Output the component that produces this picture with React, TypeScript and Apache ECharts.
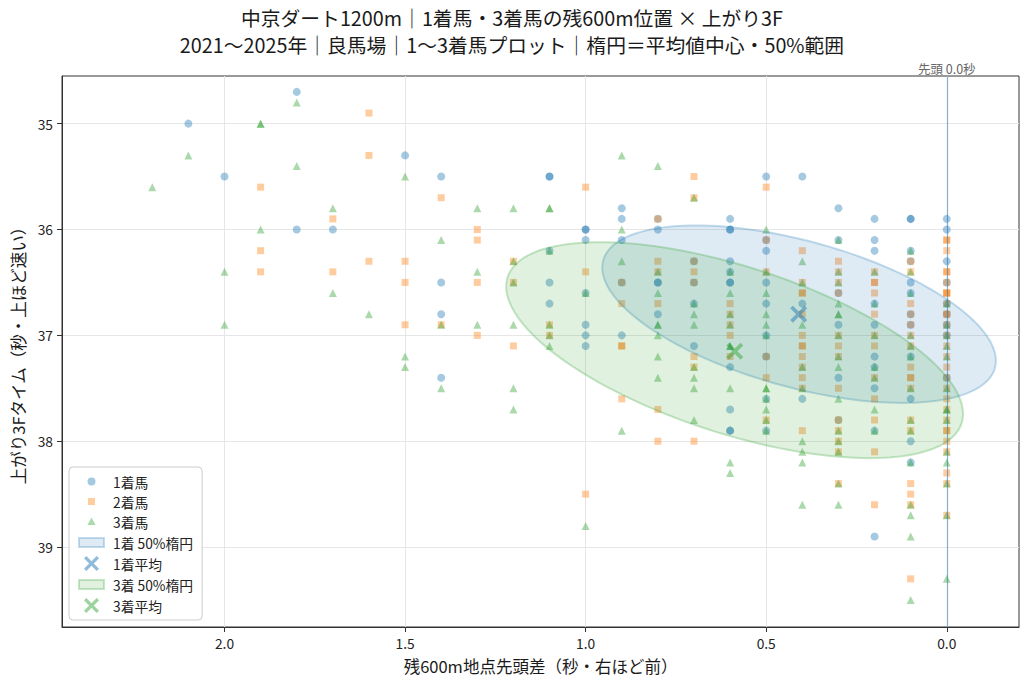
import React, { useEffect, useRef } from 'react';
import * as echarts from 'echarts';

const FONT = '"Noto Sans CJK JP", "Noto Sans", sans-serif';

const TITLE_LINES = [
  '中京ダート1200m｜1着馬・3着馬の残600m位置 × 上がり3F',
  '2021～2025年｜良馬場｜1～3着馬プロット｜楕円＝平均値中心・50%範囲',
];
const X_NAME = '残600m地点先頭差（秒・右ほど前）';
const Y_NAME = '上がり3Fタイム（秒・上ほど速い）';
const X_TICKS = [0, 0.5, 1.0, 1.5, 2.0];
const Y_TICKS = [35, 36, 37, 38, 39];
const X_RANGE = [-0.2, 2.45];
const Y_RANGE = [34.55, 39.755];
const LEADER_X = 0;
const LEADER_LABEL = '先頭 0.0秒';

const FIRST: number[][] = [
  [1.8, 34.7], [2.1, 35.0], [1.5, 35.3], [2.0, 35.5], [1.4, 35.5], [1.8, 36.0], [1.7, 36.0], [1.4, 36.5], [1.4, 36.8], [1.4, 37.4],
  [1.1, 35.5], [1.1, 35.5], [0.5, 35.5], [0.4, 35.5], [0.9, 35.8], [0.3, 35.8], [0.9, 35.9], [0.8, 35.9], [0.6, 35.9], [0.2, 35.9],
  [0.1, 35.9], [0.1, 35.9], [0.0, 35.9], [1.0, 36.0], [1.0, 36.0], [0.8, 36.0], [0.6, 36.0], [0.6, 36.0], [0.0, 36.0],
  [1.0, 36.1], [0.9, 36.1], [0.5, 36.1], [0.3, 36.1], [0.2, 36.1], [1.1, 36.2], [0.5, 36.2], [0.2, 36.2], [0.1, 36.2],
  [0.7, 36.3], [0.6, 36.3], [0.1, 36.3], [0.0, 36.3], [0.6, 36.4],
  [1.1, 36.5], [0.9, 36.5], [0.8, 36.5], [0.8, 36.5], [0.7, 36.5], [0.6, 36.5], [0.6, 36.5], [0.5, 36.5], [0.1, 36.5], [0.0, 36.5],
  [1.0, 36.6], [0.3, 36.6], [0.1, 36.6], [1.1, 36.7], [0.7, 36.7], [0.5, 36.7], [0.4, 36.7], [0.2, 36.7], [0.0, 36.7],
  [0.8, 36.8], [0.1, 36.8], [0.0, 36.8], [1.0, 36.9], [0.3, 36.9], [0.2, 36.9], [0.1, 36.9], [0.0, 36.9],
  [1.0, 37.0], [0.9, 37.0], [0.5, 37.0], [0.0, 37.0], [1.0, 37.1], [0.7, 37.1], [0.5, 37.2], [0.2, 37.2], [0.1, 37.2],
  [0.6, 37.3], [0.2, 37.3], [0.3, 37.4], [0.0, 37.4], [0.2, 37.5], [0.5, 37.6], [0.4, 37.6], [0.1, 37.6], [0.6, 37.7],
  [0.3, 37.8], [0.6, 37.9], [0.6, 37.9], [0.5, 37.9], [0.2, 37.9], [0.1, 38.0], [0.1, 38.2], [0.2, 38.9],
];

const SECOND: number[][] = [
  [1.6, 34.9], [1.6, 35.3], [1.9, 35.6], [1.4, 35.7], [1.7, 35.9], [1.3, 36.0], [1.3, 36.1], [1.9, 36.2], [1.6, 36.3], [1.5, 36.3],
  [1.9, 36.4], [1.7, 36.4], [1.5, 36.5], [1.3, 36.5], [1.5, 36.9], [1.4, 36.9], [1.3, 37.0],
  [1.0, 35.6], [0.7, 35.5], [0.7, 35.7], [0.5, 35.6], [0.8, 35.9], [0.5, 36.1], [0.0, 36.1], [0.0, 36.1], [0.4, 36.2], [0.0, 36.2],
  [1.2, 36.3], [0.8, 36.3], [0.7, 36.3], [0.3, 36.3], [0.1, 36.3],
  [1.0, 36.4], [0.8, 36.4], [0.7, 36.4], [0.5, 36.4], [0.3, 36.4], [0.2, 36.4], [0.1, 36.4], [0.0, 36.4], [0.0, 36.4],
  [1.2, 36.5], [0.9, 36.5], [0.7, 36.5], [0.4, 36.5], [0.3, 36.5], [0.2, 36.5], [0.2, 36.5], [0.0, 36.5],
  [0.4, 36.6], [0.4, 36.6], [0.3, 36.6], [0.2, 36.6], [0.0, 36.6], [0.0, 36.6], [0.0, 36.6],
  [0.9, 36.7], [0.8, 36.7], [0.6, 36.7], [0.1, 36.7], [0.0, 36.7],
  [0.6, 36.8], [0.4, 36.8], [0.2, 36.8], [0.1, 36.8], [0.0, 36.8], [0.0, 36.8],
  [1.1, 36.9], [0.6, 36.9], [0.1, 36.9], [0.0, 36.9],
  [1.1, 37.0], [0.6, 37.0], [0.4, 37.0], [0.3, 37.0], [0.2, 37.0], [0.1, 37.0], [0.0, 37.0],
  [1.2, 37.1], [0.9, 37.1], [0.9, 37.1], [0.4, 37.1], [0.4, 37.1], [0.3, 37.1], [0.2, 37.1], [0.1, 37.1], [0.0, 37.1],
  [0.7, 37.2], [0.6, 37.2], [0.5, 37.2], [0.4, 37.2], [0.3, 37.2], [0.0, 37.2],
  [0.7, 37.3], [0.4, 37.3], [0.1, 37.3], [0.0, 37.3],
  [0.5, 37.4], [0.4, 37.4], [0.2, 37.4], [0.1, 37.4], [0.1, 37.4], [0.0, 37.4],
  [0.4, 37.5], [0.3, 37.5], [0.1, 37.5], [0.0, 37.5], [0.9, 37.6], [0.2, 37.6], [0.0, 37.6], [0.8, 37.7], [0.0, 37.7],
  [0.5, 37.8], [0.3, 37.8], [0.2, 37.8], [0.1, 37.8], [0.0, 37.8],
  [0.4, 37.9], [0.3, 37.9], [0.1, 37.9], [0.0, 37.9], [0.0, 37.9],
  [0.8, 38.0], [0.7, 38.0], [0.3, 38.0], [0.0, 38.0], [0.3, 38.1], [0.2, 38.1], [0.0, 38.1], [0.0, 38.3],
  [0.3, 38.4], [0.1, 38.4], [0.0, 38.4], [1.0, 38.5], [0.1, 38.5], [0.2, 38.6], [0.1, 38.6], [0.0, 38.7], [0.1, 39.3],
];

const THIRD: number[][] = [
  [1.8, 34.8], [1.9, 35.0], [1.9, 35.0], [2.1, 35.3], [1.8, 35.4], [1.5, 35.5], [2.2, 35.6], [1.7, 35.8], [1.3, 35.8], [1.9, 36.0],
  [1.4, 36.1], [2.0, 36.4], [1.3, 36.4], [1.7, 36.6], [1.6, 36.8], [2.0, 36.9], [1.4, 36.9], [1.3, 36.9], [1.5, 37.2], [1.5, 37.3], [1.4, 37.5],
  [0.9, 35.3], [0.8, 35.4], [0.7, 35.7], [1.2, 35.8], [1.1, 35.8], [1.1, 35.8], [0.9, 36.0], [0.5, 36.0], [0.3, 36.1],
  [1.1, 36.2], [0.1, 36.2], [1.2, 36.3], [0.9, 36.3], [0.4, 36.3],
  [0.8, 36.4], [0.6, 36.4], [0.5, 36.4], [0.3, 36.4], [0.2, 36.4], [0.1, 36.4], [1.2, 36.5], [0.4, 36.5], [0.3, 36.5],
  [1.0, 36.6], [0.8, 36.6], [0.6, 36.6], [0.5, 36.6], [0.1, 36.6], [0.7, 36.7], [0.3, 36.7], [0.2, 36.7], [0.0, 36.7],
  [0.7, 36.8], [0.6, 36.8], [0.5, 36.8], [0.3, 36.8], [0.3, 36.8],
  [1.2, 36.9], [1.1, 36.9], [0.8, 36.9], [0.8, 36.9], [0.7, 36.9], [0.6, 36.9], [0.5, 36.9], [0.4, 36.9], [0.0, 36.9],
  [1.1, 37.0], [0.8, 37.0], [0.5, 37.0], [0.3, 37.0], [0.2, 37.0], [0.1, 37.0], [0.0, 37.0],
  [1.1, 37.1], [0.6, 37.1], [0.6, 37.1], [0.1, 37.1], [0.0, 37.1], [0.8, 37.2], [0.3, 37.2], [0.1, 37.2], [0.0, 37.2],
  [0.7, 37.3], [0.4, 37.3], [0.3, 37.3], [0.2, 37.3],
  [1.2, 37.5], [0.8, 37.4], [0.7, 37.4], [0.2, 37.4], [0.7, 37.5], [0.6, 37.5], [0.5, 37.5], [0.5, 37.5], [0.4, 37.5], [0.1, 37.5], [0.0, 37.5],
  [0.5, 37.6], [0.3, 37.6], [1.2, 37.7], [0.5, 37.7], [0.2, 37.7], [0.0, 37.7], [0.0, 37.7],
  [0.7, 37.8], [0.5, 37.8], [0.1, 37.8], [0.0, 37.8], [0.9, 37.9], [0.5, 37.9], [0.3, 37.9], [0.2, 37.9], [0.1, 37.9],
  [0.4, 38.0], [0.3, 38.0], [0.4, 38.1], [0.3, 38.1], [0.0, 38.1], [0.6, 38.2], [0.4, 38.2], [0.1, 38.2], [0.0, 38.2], [0.6, 38.3],
  [0.3, 38.4], [0.0, 38.4], [0.4, 38.6], [0.3, 38.6], [0.1, 38.6], [0.1, 38.7], [0.0, 38.7], [1.0, 38.8], [0.1, 38.9],
  [0.0, 39.3], [0.1, 39.5],
];

const MEAN_1 = [0.41, 36.8];
const MEAN_3 = [0.587, 37.15];
// centre x, centre y, half extent x, half extent y, correlation
const ELLIPSE_1 = [0.409, 36.8, 0.545, 0.838, -0.525];
const ELLIPSE_3 = [0.5875, 37.14, 0.6325, 1.02, -0.59];

const C1 = 'rgba(31,119,180,0.5)';
const C2 = 'rgba(255,127,14,0.5)';
const C3 = 'rgba(44,160,44,0.5)';
const E1_FILL = 'rgba(31,119,180,0.15)';
const E1_EDGE = 'rgba(31,119,180,0.26)';
const E3_FILL = 'rgba(44,160,44,0.15)';
const E3_EDGE = 'rgba(44,160,44,0.26)';
const M1_COLOR = 'rgba(31,119,180,0.62)';
const M3_COLOR = 'rgba(44,160,44,0.58)';
const X_SYMBOL = 'path://M0,2.5L2.5,0L8,5.5L13.5,0L16,2.5L10.5,8L16,13.5L13.5,16L8,10.5L2.5,16L0,13.5L5.5,8Z';

// legend icons, padded to the 27x15 legend item box so they keep their own size
const BOX = 'M0,0M27,15';
const ICON_CIRCLE = `path://${BOX}M9.5,7.5A4,4 0 1,1 17.5,7.5A4,4 0 1,1 9.5,7.5Z`;
const ICON_SQUARE = `path://${BOX}M10,4L17,4L17,11L10,11Z`;
const ICON_TRIANGLE = `path://${BOX}M13.5,3.5L17.5,11L9.5,11Z`;
const ICON_PATCH = `path://${BOX}M1,3L26,3L26,12L1,12Z`;
const ICON_X = `path://${BOX}M5.5,2.5L8,0L13.5,5.5L19,0L21.5,2.5L16,8L21.5,13.5L19,16L13.5,10.5L8,16L5.5,13.5L11,8Z`;

function ellipseSeries(name: string, params: number[], fill: string, edge: string) {
  return {
    type: 'custom',
    name,
    z: 3,
    clip: true,
    silent: true,
    dimensions: ['cx', 'cy', 'hx', 'hy', 'rho'],
    encode: { x: 'cx', y: 'cy' },
    data: [params],
    itemStyle: { color: fill, borderColor: edge, borderWidth: 2 },
    renderItem: (_p: any, api: any) => {
      const cx = api.value(0);
      const cy = api.value(1);
      const hx = api.value(2);
      const hy = api.value(3);
      const r = api.value(4);
      const s = Math.sqrt(1 - r * r);
      const pts: number[][] = [];
      const n = 160;
      for (let i = 0; i < n; i++) {
        const t = (i / n) * Math.PI * 2;
        const x = cx + hx * Math.cos(t);
        const y = cy + hy * (r * Math.cos(t) + s * Math.sin(t));
        pts.push(api.coord([x, y]));
      }
      return {
        type: 'polygon',
        shape: { points: pts },
        style: { fill, stroke: edge, lineWidth: 2 },
      };
    },
  };
}

export default function App() {
  const ref = useRef<HTMLDivElement>(null);
  useEffect(() => {
    if (!ref.current) return;
    const chart = echarts.init(ref.current, undefined, { renderer: 'svg' });
    const option: any = {
      animation: false,
      backgroundColor: '#ffffff',
      textStyle: { fontFamily: FONT },
      title: {
        text: TITLE_LINES.join('\n'),
        left: 'center',
        top: 4,
        padding: [0, 0, 0, 56],
        textStyle: { fontSize: 19.8, fontWeight: 'normal', color: '#1a1a1a', lineHeight: 27, fontFamily: FONT },
      },
      grid: { left: 62, right: 5, top: 76, bottom: 55, show: true, borderColor: '#333', borderWidth: 1, backgroundColor: 'transparent' },
      xAxis: {
        type: 'value',
        min: X_RANGE[0],
        max: X_RANGE[1],
        inverse: true,
        name: X_NAME,
        nameLocation: 'middle',
        nameGap: 31,
        nameTextStyle: { fontSize: 16.5, color: '#1a1a1a', fontFamily: FONT },
        axisLine: { show: true, onZero: false, lineStyle: { color: '#333', width: 1 } },
        axisTick: { show: true, length: 5, customValues: X_TICKS, lineStyle: { color: '#333' } },
        axisLabel: {
          customValues: X_TICKS,
          formatter: (v: number) => v.toFixed(1),
          fontSize: 13.8,
          color: '#222',
          margin: 9,
          fontFamily: FONT,
        },
        splitLine: { show: true, lineStyle: { color: '#e6e6e6', width: 1 } },
      },
      yAxis: {
        type: 'value',
        min: Y_RANGE[0],
        max: Y_RANGE[1],
        inverse: true,
        name: Y_NAME,
        nameLocation: 'middle',
        nameGap: 36,
        nameTextStyle: { fontSize: 16.5, color: '#1a1a1a', fontFamily: FONT },
        axisLine: { show: true, onZero: false, lineStyle: { color: '#333', width: 1 } },
        axisTick: { show: true, length: 5, customValues: Y_TICKS, lineStyle: { color: '#333' } },
        axisLabel: {
          customValues: Y_TICKS,
          formatter: (v: number) => String(Math.round(v)),
          fontSize: 13.8,
          color: '#222',
          margin: 9,
          fontFamily: FONT,
        },
        splitLine: { show: true, lineStyle: { color: '#e6e6e6', width: 1 } },
      },
      legend: {
        orient: 'vertical',
        left: 69,
        top: 467,
        padding: [7, 9, 7, 8],
        itemGap: 5,
        itemWidth: 27,
        itemHeight: 15,
        backgroundColor: 'rgba(255,255,255,0.85)',
        borderColor: '#cccccc',
        borderWidth: 1,
        borderRadius: 4,
        selectedMode: false,
        textStyle: { fontSize: 13.8, color: '#222', fontFamily: FONT, padding: [0, 0, 0, 3] },
        data: [
          { name: '1着馬', icon: ICON_CIRCLE },
          { name: '2着馬', icon: ICON_SQUARE },
          { name: '3着馬', icon: ICON_TRIANGLE },
          { name: '1着 50%楕円', icon: ICON_PATCH, itemStyle: { color: E1_FILL, borderColor: E1_EDGE, borderWidth: 2 } },
          { name: '1着平均', icon: ICON_X },
          { name: '3着 50%楕円', icon: ICON_PATCH, itemStyle: { color: E3_FILL, borderColor: E3_EDGE, borderWidth: 2 } },
          { name: '3着平均', icon: ICON_X },
        ],
      },
      series: [
        {
          type: 'scatter',
          name: '1着馬',
          z: 2,
          symbol: 'circle',
          symbolSize: 8,
          itemStyle: { color: C1 },
          data: FIRST,
          markLine: {
            silent: true,
            symbol: 'none',
            animation: false,
            data: [{ xAxis: LEADER_X }],
            lineStyle: { color: 'rgba(31,119,180,0.5)', width: 1.2, type: 'solid' },
            label: {
              show: true,
              position: 'start',
              distance: 1,
              formatter: LEADER_LABEL,
              color: '#666',
              fontSize: 12.5,
              fontFamily: FONT,
            },
            emphasis: { disabled: true },
          },
        },
        { type: 'scatter', name: '2着馬', z: 2, symbol: 'rect', symbolSize: 7, itemStyle: { color: C2 }, data: SECOND },
        { type: 'scatter', name: '3着馬', z: 2, symbol: 'triangle', symbolSize: 8, itemStyle: { color: C3 }, data: THIRD },
        ellipseSeries('1着 50%楕円', ELLIPSE_1, E1_FILL, E1_EDGE),
        { type: 'scatter', name: '1着平均', z: 4, symbol: X_SYMBOL, symbolSize: 17, itemStyle: { color: M1_COLOR }, data: [MEAN_1] },
        ellipseSeries('3着 50%楕円', ELLIPSE_3, E3_FILL, E3_EDGE),
        { type: 'scatter', name: '3着平均', z: 4, symbol: X_SYMBOL, symbolSize: 17, itemStyle: { color: M3_COLOR }, data: [MEAN_3] },
      ],
    };
    chart.setOption(option);
    return () => chart.dispose();
  }, []);
  return (
    <div
      ref={ref}
      style={{ position: 'fixed', left: 0, top: 0, width: 1024, height: 682, background: '#fff' }}
    />
  );
}
